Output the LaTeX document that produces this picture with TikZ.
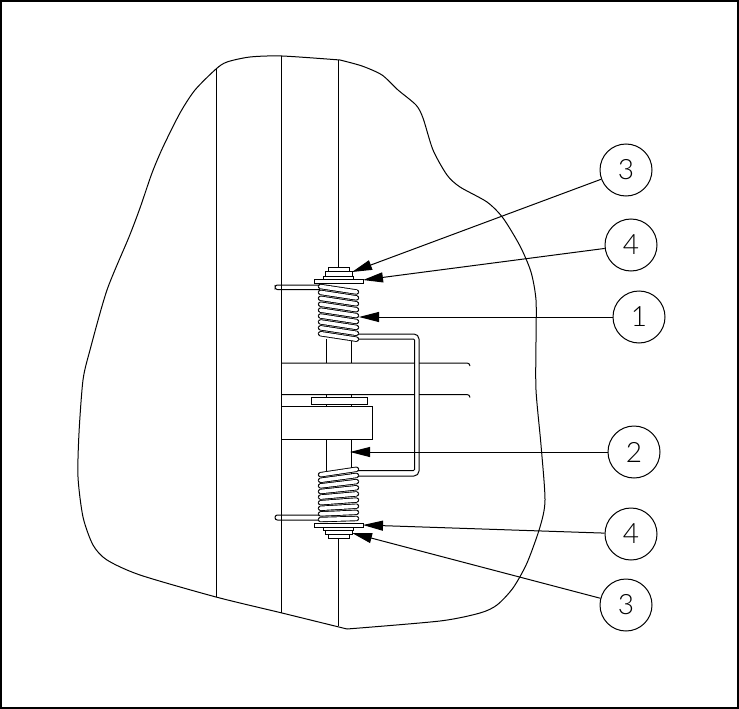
\documentclass[tikz,border=0pt]{standalone}
\usepackage{fontspec}
\setmainfont{Lato}[UprightFont=* Light]
\usetikzlibrary{arrows.meta}
\tikzset{
  line/.style={draw=black,line width=1pt},
  grayline/.style={draw=black,line width=1pt},
  callout/.style={circle,draw=black,line width=1pt,minimum size=52pt,inner sep=0pt,font=\fontsize{28}{28}\selectfont},
  leader/.style={draw=black,line width=1pt,-{Triangle[length=20pt,width=10pt,fill=black]}},
  part/.style={draw=black,line width=1pt,fill=white}
}
\newcommand{\coilband}[4]{%
  \draw[line cap=round,line width=5.4pt,black] (#1,#2) -- (#3,#4);
  \draw[line cap=round,line width=3.6pt,white] (#1,#2) -- (#3,#4);}
\begin{document}
\begin{tikzpicture}[x=1pt,y=-1pt]
\useasboundingbox (0,0) rectangle (739,709);
\draw[line width=2pt] (1,1) rectangle (737.5,707.5);
% outline
\draw[line] plot[smooth,tension=0.45] coordinates {(347,629) (440,621) (480,613) (497,605) (513,588) (527,563) (540,527) (545,500) (541,445) (536,390) (536,340) (536,300) (531,272) (520,246) (503,218) (487,202) (460,187) (447,175) (433,150) (423,118) (416,105) (398,90) (382,75) (362,66) (340,60)};
\draw[line] plot[smooth,tension=0.45] coordinates {(340,60) (282,56) (250,57) (227,62) (216,69) (195,90) (180,113) (163,147) (152,173) (140,208) (129,237) (107,290) (90,350) (83,380) (79,433) (78,477) (83,517) (93,545) (107,560) (140,575) (216,597) (282,613) (347,629)};
% vertical plate lines
\draw[line] (216.5,69) -- (216.5,597);
\draw[line] (281.5,56) -- (281.5,613);
\draw[line] (338.5,60) -- (338.5,267);
\draw[line] (338.5,538) -- (338.5,626);
% horizontal lines
\draw[grayline] (282,363) -- (467,363) arc[start angle=-90,end angle=0,radius=3];
\draw[line] (282,394.5) -- (467,394.5) arc[start angle=-90,end angle=0,radius=3];
% shaft
\draw[grayline] (326,339) -- (326,363);
\draw[line] (351.5,339) -- (351.5,363);
\draw[grayline] (326,394) -- (326,406);
\draw[line] (351.5,394) -- (351.5,406);
\draw[grayline] (326,439) -- (326,474);
\draw[line] (351.5,439) -- (351.5,474);
% block and spacer
\draw[part] (311,397) rectangle (367,404);
\draw[grayline] (282,406) -- (372,406) -- (372,439) -- (282,439);
% spring arm
\draw[draw=white,line width=4pt] (417,340) -- (417,470);
\draw[line,rounded corners=5pt] (358,334) -- (419,334) -- (419,476) -- (358,476);
\draw[line,rounded corners=1pt] (358,339) -- (414.5,339) -- (414.5,470.5) -- (358,470.5);
% spring legs
\draw[line,rounded corners=2.4pt] (320,285) -- (275,285) -- (275,289.5) -- (320,289.5);
\draw[line,rounded corners=2.4pt] (320,515) -- (275,515) -- (275,520) -- (320,520);
% coils
\foreach \i in {0,...,8} {
  \pgfmathsetmacro{\yl}{286.5+\i*5.9}
  \pgfmathsetmacro{\yr}{\yl+5.5}
  \coilband{320.5}{\yl}{356.5}{\yr}
}
\foreach \i in {0,...,8} {
  \pgfmathsetmacro{\yl}{519.5-\i*5.6}
  \pgfmathsetmacro{\yr}{\yl-1-\i*0.55}
  \coilband{320.5}{\yl}{356.5}{\yr}
}
% top hardware
\draw[part] (328,267) rectangle (349,271);
\draw[part] (325,271) rectangle (352,276);
\draw[part] (323,276) rectangle (353,279);
\draw[part] (314,279) rectangle (363,283);
% bottom hardware
\draw[part] (314,523) rectangle (363,527);
\draw[part] (323,527) rectangle (353,530);
\draw[part] (325,530) rectangle (352,534);
\draw[part] (328,534) rectangle (349,538);
% callouts
\node[callout] (c3a) at (626,170) {3};
\node[callout] (c4a) at (631,245) {4};
\node[callout] (c1) at (639,317) {1};
\node[callout] (c2) at (634,452) {2};
\node[callout] (c4b) at (631,534) {4};
\node[callout] (c3b) at (626,605) {3};
\coordinate (t3a) at (352,272);
\coordinate (t4a) at (363,280);
\coordinate (t1) at (359,317);
\coordinate (t2) at (350,452);
\coordinate (t4b) at (363,525);
\coordinate (t3b) at (352,533);
\draw[leader] (c3a) -- (t3a);
\draw[leader] (c4a) -- (t4a);
\draw[leader] (c1) -- (t1);
\draw[leader] (c2) -- (t2);
\draw[leader] (c4b) -- (t4b);
\draw[leader] (c3b) -- (t3b);
\end{tikzpicture}
\end{document}
